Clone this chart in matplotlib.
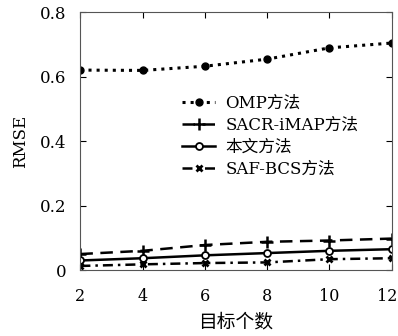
import matplotlib
matplotlib.use('Agg')
import matplotlib.pyplot as plt
from matplotlib.transforms import ScaledTranslation

plt.rcParams['font.family'] = ['DejaVu Serif', 'Noto Sans CJK SC']

x = [2, 4, 6, 8, 10, 12]
omp = [0.621, 0.62, 0.633, 0.655, 0.69, 0.705]
sacr = [0.05, 0.06, 0.078, 0.088, 0.092, 0.098]
ours = [0.03, 0.037, 0.046, 0.053, 0.06, 0.065]
saf = [0.013, 0.018, 0.022, 0.024, 0.034, 0.037]

labels = ['OMP方法', 'SACR-iMAP方法', '本文方法', 'SAF-BCS方法']

fig = plt.figure(figsize=(3.98, 3.36), dpi=100)
ax = fig.add_axes([0.202, 0.196, 0.782, 0.767])

ax.plot(x, omp, color='black', linestyle=':', linewidth=2.2, marker='o', markersize=5,
        markerfacecolor='black', label=labels[0])
ax.plot(x, sacr, color='black', linestyle=(0, (5, 3)), linewidth=1.8, marker='+', markersize=8,
        markeredgewidth=1.8, label=labels[1])
ax.plot(x, ours, color='black', linestyle='-', linewidth=1.8, marker='o', markersize=5,
        markerfacecolor='white', markeredgewidth=1.3, label=labels[2])
ax.plot(x, saf, color='black', linestyle=(0, (4, 2, 1, 2)), linewidth=1.8, marker='x', markersize=5,
        markeredgewidth=2, label=labels[3])

ax.set_xlim(2, 12)
ax.set_ylim(0, 0.8)
ax.set_xticks(x)
ax.set_yticks([0, 0.2, 0.4, 0.6, 0.8])
ax.set_yticklabels(['0', '0.2', '0.4', '0.6', '0.8'])
ax.tick_params(direction='in', top=True, right=True, labelsize=12, length=4)
ax.tick_params(axis='x', pad=13, labelsize=11.5)
ax.tick_params(axis='y', pad=10)
for s in ax.spines.values():
    s.set_linewidth(0.8)
    s.set_color('#555555')

# keep the last x tick label inside the figure
last = ax.get_xticklabels()[-1]
last.set_transform(last.get_transform() + ScaledTranslation(-4 / 100, 0, fig.dpi_scale_trans))

ax.set_xlabel('目标个数', fontsize=13.5, labelpad=6)
ax.set_ylabel('RMSE', fontsize=12, labelpad=8)

ax.legend(loc='upper left', bbox_to_anchor=(0.326, 0.68), frameon=False, fontsize=12,
          handlelength=2.0, handletextpad=0.6, labelspacing=0.3, borderaxespad=0,
          borderpad=0)

fig.savefig('out.png', dpi=100)
